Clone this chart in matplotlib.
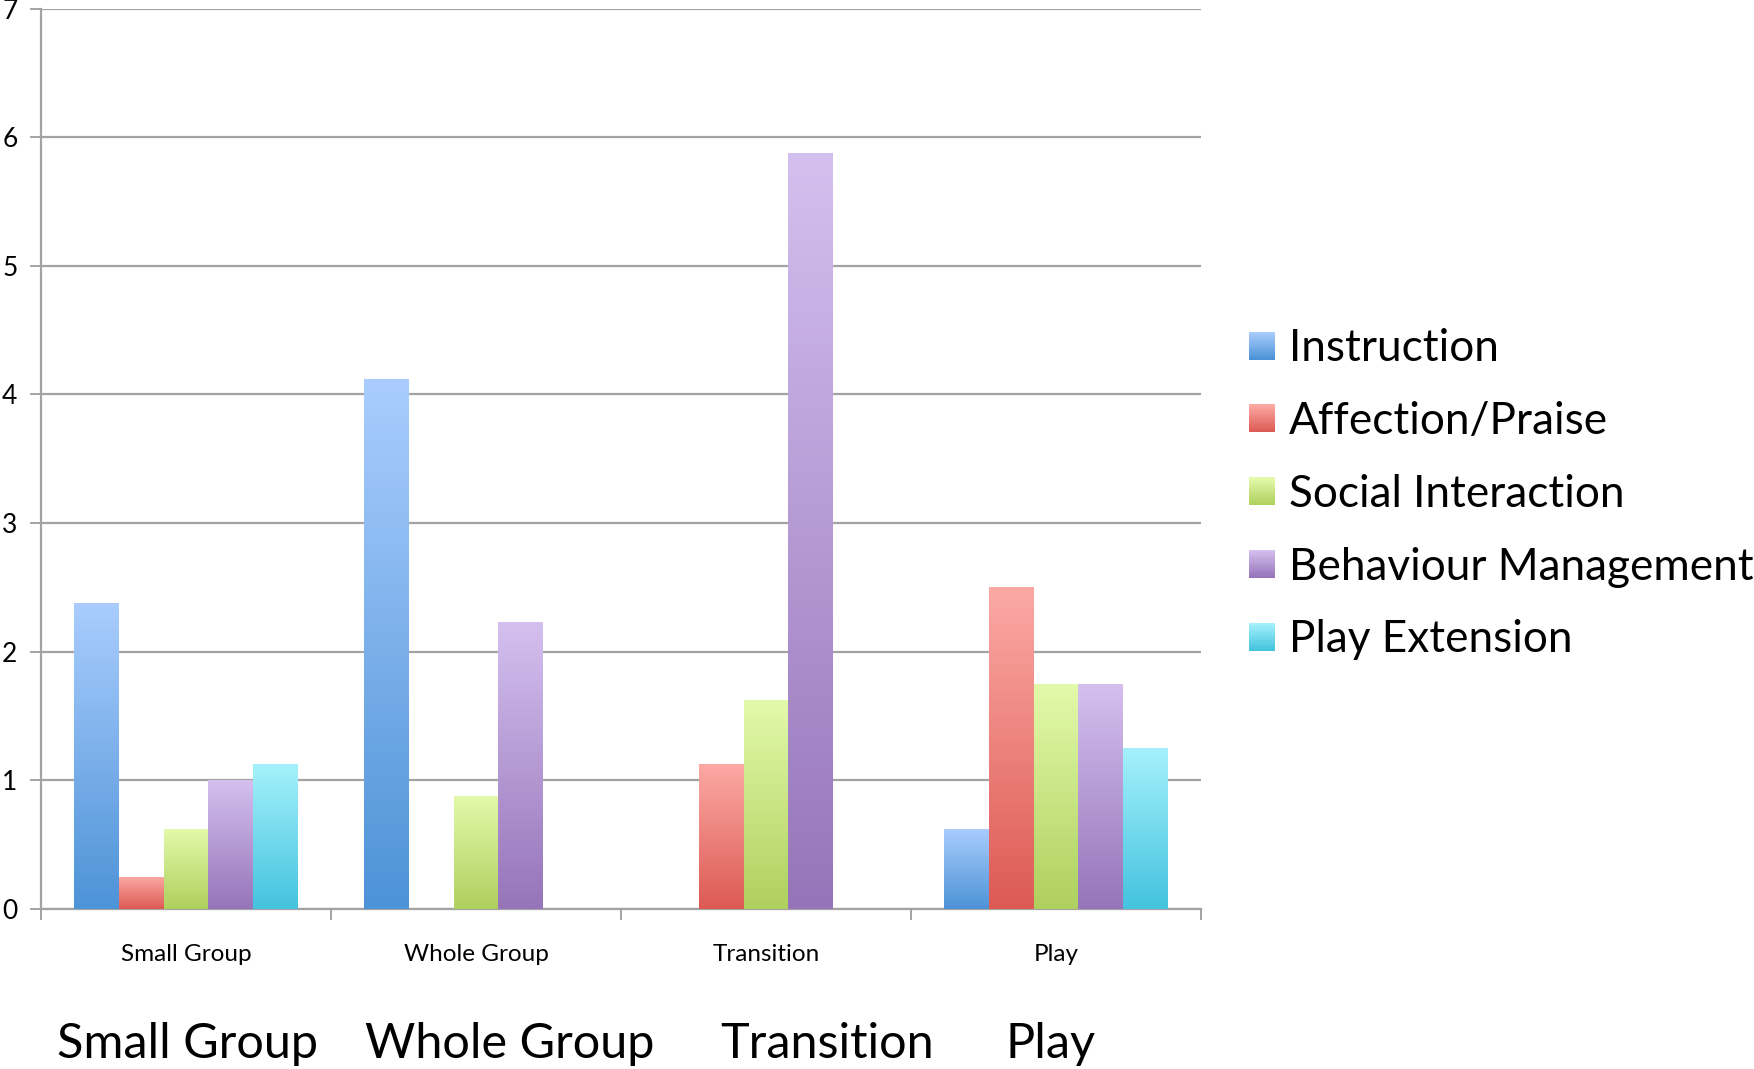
import numpy as np
import matplotlib
matplotlib.use("Agg")
import matplotlib.pyplot as plt
from matplotlib.colors import LinearSegmentedColormap, to_rgb
from matplotlib.legend_handler import HandlerBase
from matplotlib.patches import Rectangle, Patch

plt.rcParams['font.family'] = ['Lato', 'DejaVu Sans']

# ---- data ----
categories = ["Small Group", "Whole Group", "Transition", "Play"]
series = ["Instruction", "Affection/Praise", "Social Interaction",
          "Behaviour Management", "Play Extension"]
instruction = [2.38, 4.12, 0.0, 0.625]
affection = [0.25, 0.0, 1.125, 2.5]
social = [0.625, 0.88, 1.625, 1.75]
behaviour = [1.0, 2.23, 5.875, 1.75]
play_ext = [1.125, 0.0, 0.0, 1.25]
values = [instruction, affection, social, behaviour, play_ext]
yticks = [0, 1, 2, 3, 4, 5, 6, 7]
big_labels = ["Small Group", "Whole Group", "Transition", "Play"]

# ---- styles ----
tops = ["#AACDFE", "#FCA9A4", "#E3FAAB", "#D4C0EF", "#A5F1FB"]
bottoms = ["#4D93D7", "#DD5A54", "#AFD05E", "#9674B9", "#44C3DF"]

fig = plt.figure(figsize=(17.54, 10.69), dpi=100)
ax = fig.add_axes([0.0234, 0.1497, 0.6613, 0.8423])

x = np.arange(len(categories))
width = 0.154
grad = np.linspace(0, 1, 256).reshape(-1, 1)

for i, (vals, top, bot) in enumerate(zip(values, tops, bottoms)):
    bars = ax.bar(x + (i - 2) * width, vals, width, color=bot, zorder=3,
                  linewidth=0)
    cmap = LinearSegmentedColormap.from_list(f"g{i}", [bot, top])
    for b in bars:
        h = b.get_height()
        if h <= 0:
            continue
        x0 = b.get_x()
        im = ax.imshow(grad, cmap=cmap, origin="lower", aspect="auto",
                       extent=[x0, x0 + b.get_width(), 0, h], zorder=4)
        im.set_clip_path(b)

ax.set_xlim(-0.5, len(categories) - 0.5)
ax.set_ylim(0, 7)
ax.set_yticks(yticks)
ax.set_yticklabels([str(t) for t in yticks])
ax.yaxis.grid(True, color="#A3A3A3", linewidth=1.6, zorder=0)
ax.set_axisbelow(True)

ax.set_xticks(np.arange(-0.5, len(categories) + 0.5, 1.0))
ax.set_xticklabels([])
ax.set_xticks(x, minor=True)
ax.set_xticklabels(categories, minor=True, fontsize=17.5)
ax.tick_params(axis="x", which="minor", length=0, pad=25)
ax.tick_params(axis="x", which="major", length=8, width=1.4, color="#A3A3A3",
               direction="out")
ax.tick_params(axis="y", length=8, width=1.4, color="#A3A3A3", labelsize=19,
               pad=9, direction="out")

for s in ["top", "right"]:
    ax.spines[s].set_visible(False)
for s in ["left", "bottom"]:
    ax.spines[s].set_color("#A3A3A3")
    ax.spines[s].set_linewidth(1.6)

# big category labels below the chart
label_x = [0.005, 1.116, 2.212, 2.983]
for lx, lab in zip(label_x, big_labels):
    ax.text(lx, -0.150, lab, transform=ax.get_xaxis_transform(),
            ha="center", va="center", fontsize=35)


class GradHandler(HandlerBase):
    def __init__(self, top, bot, n=24):
        super().__init__()
        self.top = np.array(to_rgb(top))
        self.bot = np.array(to_rgb(bot))
        self.n = n

    def create_artists(self, legend, orig_handle, xdescent, ydescent,
                       width, height, fontsize, trans):
        arts = []
        for k in range(self.n):
            t = k / (self.n - 1)
            c = self.bot * (1 - t) + self.top * t
            r = Rectangle((-xdescent, -ydescent + k * height / self.n),
                          width, height / self.n * 1.05, facecolor=c,
                          edgecolor="none", transform=trans)
            arts.append(r)
        return arts


handles = [Patch(label=s) for s in series]
hmap = {h: GradHandler(t, b) for h, t, b in zip(handles, tops, bottoms)}
fig.legend(handles=handles, labels=series, handler_map=hmap,
           loc="upper left", bbox_to_anchor=(0.712, 0.693),
           frameon=False, fontsize=31.8, handlelength=0.6, handleheight=0.6,
           handletextpad=0.3, labelspacing=0.72, borderpad=0,
           borderaxespad=0)

fig.savefig("out.png", dpi=100)
